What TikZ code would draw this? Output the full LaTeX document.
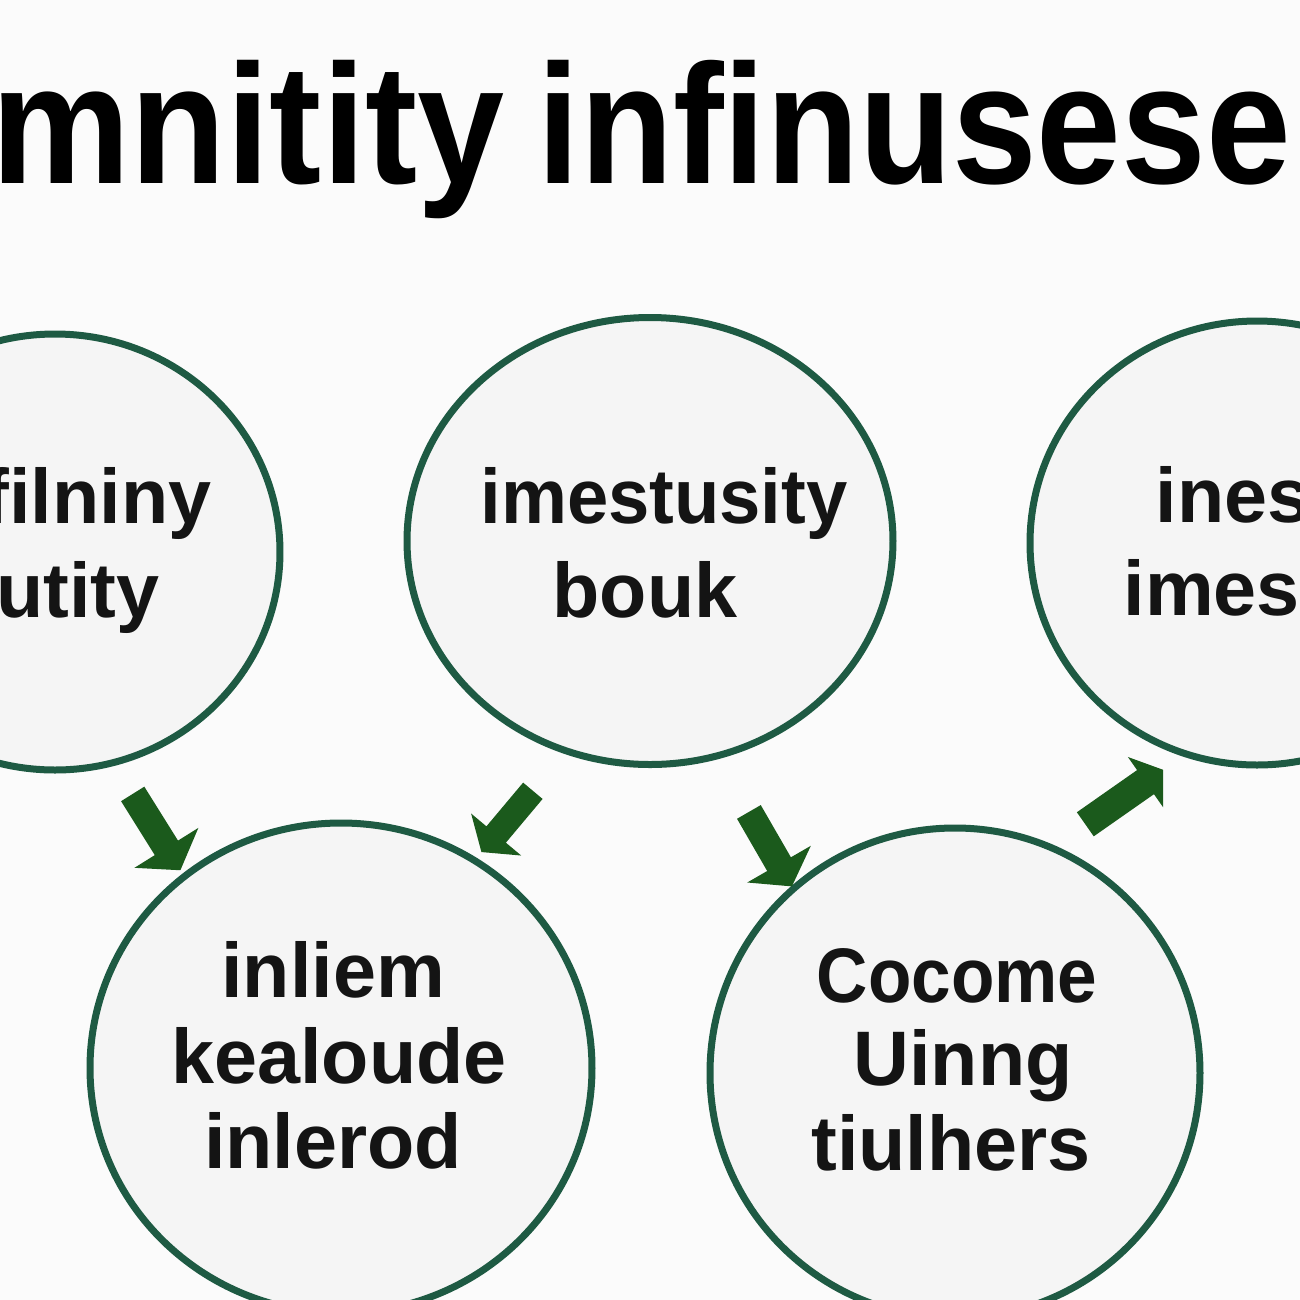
\documentclass[tikz,border=0pt]{standalone}
\usepackage{fontspec}
\setmainfont{Liberation Sans}
\usepackage{graphicx}
\usetikzlibrary{shapes.geometric,shapes.arrows}
\definecolor{ringgreen}{HTML}{1E5A43}
\definecolor{arrowgreen}{HTML}{1B5A1C}
\definecolor{inkblack}{HTML}{141414}
\definecolor{bgwhite}{HTML}{FBFBFB}
\definecolor{discfill}{HTML}{F5F5F5}
\begin{document}
\begin{tikzpicture}[x=0.1mm,y=-0.1mm,
  ring/.style={ellipse, draw=ringgreen, line width=0.7mm, fill=discfill, inner sep=0pt},
  word/.style={anchor=base, inner sep=0pt, text=inkblack, font=\bfseries\fontsize{22pt}{26pt}\selectfont},
  titleword/.style={anchor=base west, inner sep=0pt, text=black, font=\bfseries\fontsize{48.4pt}{56pt}\selectfont},
  blockarrow/.style={single arrow, fill=arrowgreen, draw=none, inner xsep=0pt,
    single arrow tip angle=110}]
\useasboundingbox (0,0) rectangle (1300,1300);
\clip (0,0) rectangle (1300,1300);
\fill[bgwhite] (0,0) rectangle (1300,1300);

% title
\node[titleword] (title1) at (-9,183) {\scalebox{0.92}[1]{mnitity}};
\node[titleword] (title2) at (537,183) {\scalebox{0.895}[1]{infinusese}};

% circles
\node[ring, minimum width=45mm, minimum height=43.6mm] (c1) at (55,552) {};
\node[ring, minimum width=48.6mm, minimum height=44.7mm] (c2) at (650,541) {};
\node[ring, minimum width=45.4mm, minimum height=44.4mm] (c3) at (1257,543) {};
\node[ring, minimum width=50.2mm, minimum height=49mm] (c4) at (341,1068) {};
\node[ring, minimum width=49mm, minimum height=49mm] (c5) at (955,1073) {};

% texts
\node[word, anchor=base east] (t1a) at (212,523) {filniny};
\node[word, anchor=base east] (t1b) at (160,617) {utity};
\node[word] (t2a) at (664,523) {\scalebox{0.96}[1]{imestusity}};
\node[word] (t2b) at (645,617) {bouk};
\node[word, anchor=base west] (t3a) at (1155,522) {ines};
\node[word, anchor=base west] (t3b) at (1123,615) {imess};
\node[word] (t4a) at (333,997) {inliem};
\node[word] (t4b) at (339,1083) {kealoude};
\node[word] (t4c) at (333,1168) {inlerod};
\node[word] (t5a) at (957,1002) {\scalebox{0.92}[1]{Cocome}};
\node[word] (t5b) at (963,1085) {Uinng};
\node[word] (t5c) at (951,1170) {tiulhers};

% arrows
\node[blockarrow, rotate=-58, minimum height=9mm, inner ysep=1.3mm, single arrow head extend=2.4mm] (a1) at (154,828) {};
\node[blockarrow, rotate=-130, minimum height=8mm, inner ysep=1.2mm, single arrow head extend=2mm] (a2) at (510,818) {};
\node[blockarrow, rotate=-60, minimum height=8.6mm, inner ysep=1.3mm, single arrow head extend=2.3mm] (a3) at (768,845) {};
\node[blockarrow, rotate=35, minimum height=9.5mm, inner ysep=1.4mm, single arrow head extend=1.6mm] (a4) at (1120,800) {};
\end{tikzpicture}
\end{document}
